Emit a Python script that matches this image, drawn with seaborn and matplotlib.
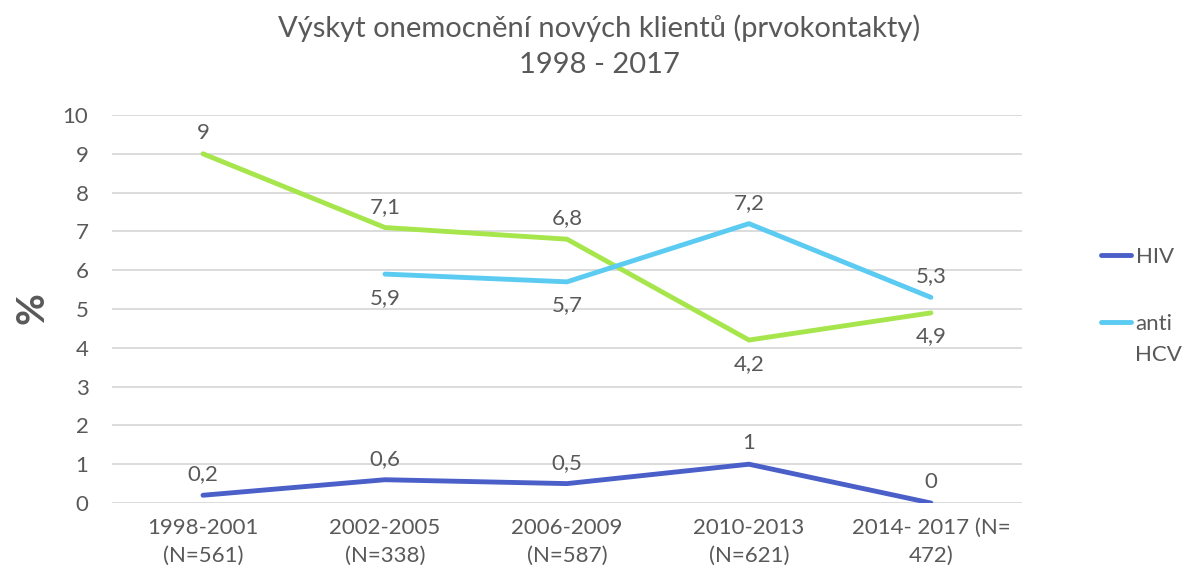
import numpy as np
import pandas as pd
import matplotlib
matplotlib.use("Agg")
import matplotlib.pyplot as plt
import seaborn as sns

periods = ["1998-2001\n(N=561)", "2002-2005\n(N=338)", "2006-2009\n(N=587)",
           "2010-2013\n(N=621)", "2014- 2017 (N=\n472)"]
hiv = [0.2, 0.6, 0.5, 1.0, 0.0]
anti_hcv = [np.nan, 5.9, 5.7, 7.2, 5.3]
third = [9.0, 7.1, 6.8, 4.2, 4.9]

# label above (+1) or below (-1) each point
hiv_pos = [1, 1, 1, 1, 1]
hcv_pos = [0, -1, -1, 1, 1]
third_pos = [1, 1, 1, -1, -1]

c_hiv = "#4a5fc8"
c_hcv = "#5ccbf2"
c_third = "#a6e64c"
grey = "#595959"

sns.set_theme(style="white")
plt.rcParams['font.family'] = ['Lato', 'DejaVu Sans']

fig = plt.figure(figsize=(11.98, 5.75), dpi=100)
ax = fig.add_axes([0.0935, 0.1252, 0.853 - 0.0935, 0.8 - 0.1252])

x = np.arange(len(periods))
df = pd.DataFrame({"x": x, "HIV": hiv, "anti": anti_hcv, "third": third})

sns.lineplot(data=df, x="x", y="third", ax=ax, color=c_third, lw=3.5,
             label="_nolegend_", solid_capstyle="round")
sns.lineplot(data=df.dropna(), x="x", y="anti", ax=ax, color=c_hcv, lw=3.5,
             label="anti", solid_capstyle="round")
sns.lineplot(data=df, x="x", y="HIV", ax=ax, color=c_hiv, lw=3.5,
             label="HIV", solid_capstyle="round")

def fmt(v):
    s = f"{v:g}"
    return s.replace(".", ",")

for vals, pos in [(hiv, hiv_pos), (anti_hcv, hcv_pos), (third, third_pos)]:
    for xi, v, p in zip(x, vals, pos):
        if np.isnan(v) or p == 0:
            continue
        ax.annotate(fmt(v), (xi, v), xytext=(0, 16 * p - 1), textcoords="offset points",
                    ha="center", va="center", fontsize=16, color=grey)

ax.set_xlim(-0.5, len(periods) - 0.5)
ax.set_ylim(0, 10)
ax.set_yticks(range(0, 11))
ax.set_xticks(x)
ax.set_xticklabels(periods, linespacing=1.45)
ax.tick_params(axis="both", labelsize=16, labelcolor=grey, length=0)
ax.tick_params(axis="y", pad=17)
ax.tick_params(axis="x", pad=11)
ax.grid(axis="y", color="#d9d9d9", lw=1.3)
ax.grid(axis="x", visible=False)
for s in ax.spines.values():
    s.set_visible(False)
ax.set_xlabel("")
ax.set_ylabel("")
fig.text(32 / 1198, 1 - 308 / 575, "%", rotation=90, fontsize=28, fontweight="bold",
         color=grey, ha="center", va="center")

fig.suptitle("Výskyt onemocnění nových klientů (prvokontakty)\n1998 - 2017",
             x=0.5, y=0.975, fontsize=21, color=grey, linespacing=1.5)

handles, labels = ax.get_legend_handles_labels()
if ax.legend_:
    ax.legend_.remove()
order = [labels.index("HIV"), labels.index("anti")]
fig.legend([handles[i] for i in order], [labels[i] for i in order],
           loc="upper left", bbox_to_anchor=(0.9025, 0.605), frameon=False,
           fontsize=16, labelcolor=grey, handlelength=1.35, handletextpad=0.2,
           labelspacing=2.1)
fig.text(1135 / 1198, 1 - 355 / 575, "HCV", fontsize=16, color=grey,
         ha="left", va="center")

fig.savefig("out.png", dpi=100)
